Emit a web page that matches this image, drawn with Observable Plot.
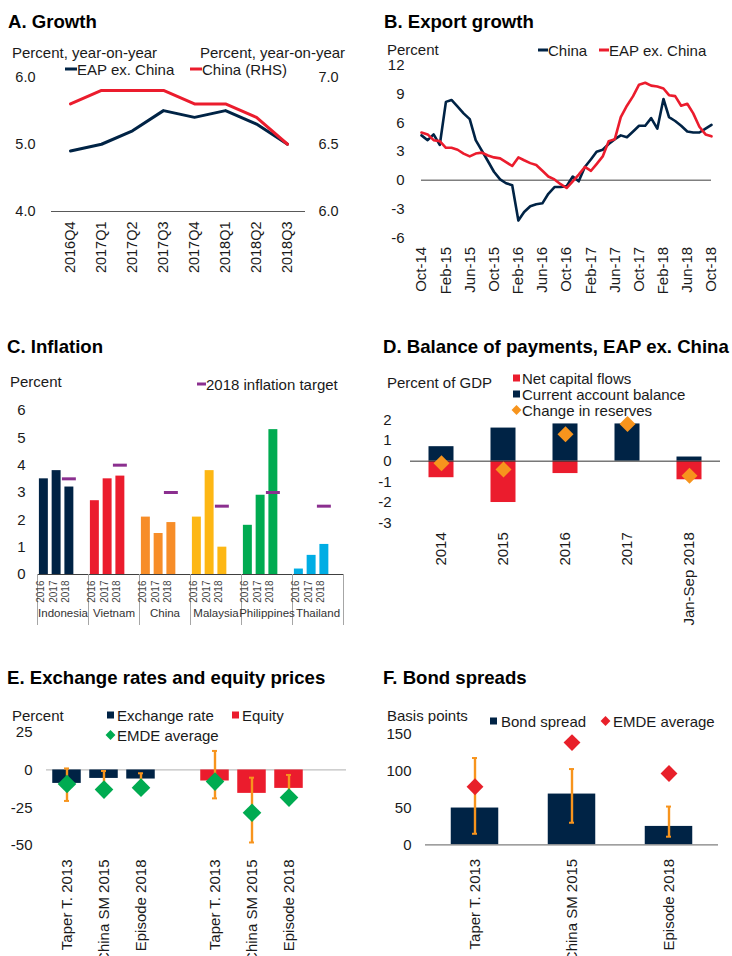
<!DOCTYPE html>
<html>
<head>
<meta charset="utf-8">
<script src="https://cdn.jsdelivr.net/npm/d3@7"></script>
<script src="https://cdn.jsdelivr.net/npm/@observablehq/plot@0.6"></script>
<style>
  body { margin: 0; background: #fff; }
  #page { position: relative; width: 732px; height: 956px; overflow: hidden;
          font-family: "Liberation Sans", Arial, sans-serif; color: #1a1a1a; }
  .t { position: absolute; white-space: nowrap; transform: translateY(-50%); line-height: 1; }
  .title { font-weight: bold; font-size: 18.6px; color: #000; }
  .lab { font-size: 15px; }
  .sw { position: absolute; transform: translateY(-50%); }
  .dia { position: absolute; transform: translateY(-50%) rotate(45deg); }
  svg.panel { position: absolute; }
</style>
</head>
<body>
<div id="page"></div>
<script>
// ---------- A. Growth ----------
const growthQuarters = ["2016Q4","2017Q1","2017Q2","2017Q3","2017Q4","2018Q1","2018Q2","2018Q3"];
const growthEapExChina = [4.9, 5.0, 5.2, 5.5, 5.4, 5.5, 5.3, 5.0];
const growthChinaRhs = [6.8, 6.9, 6.9, 6.9, 6.8, 6.8, 6.7, 6.5];

// ---------- B. Export growth (monthly, Oct-14 to Oct-18) ----------
const exportFirstMonth = [2014, 9]; // year, zero-based month
const exportChina = [4.7,4.2,4.8,3.7,8.2,8.4,7.7,7.0,6.4,4.2,3.1,2.0,0.9,0.1,-0.3,-0.5,-4.2,-3.3,-2.7,-2.5,
  -2.4,-1.4,-0.7,-0.7,-0.6,0.4,-0.1,1.4,2.2,3.0,3.2,3.8,4.3,4.7,4.5,5.1,5.7,5.7,6.5,5.4,
  8.5,6.6,6.2,5.7,5.1,5.0,5.0,5.4,5.8];
const exportEapExChina = [5.0,4.8,4.2,4.1,3.4,3.4,3.2,2.8,2.5,2.8,2.9,2.6,2.4,2.3,1.9,1.5,2.4,2.1,1.8,1.6,
  1.0,0.4,0.1,-0.4,-0.8,-0.1,0.6,1.4,1.0,1.7,2.5,4.1,4.3,6.6,7.8,8.8,10.0,10.2,9.9,9.8,
  9.6,8.9,8.8,7.8,8.0,7.0,5.6,4.8,4.6];

// ---------- C. Inflation ----------
const inflCountries = ["Indonesia","Vietnam","China","Malaysia","Philippines","Thailand"];
const inflYears = ["2016","2017","2018"];
const infl2016 = [3.5, 2.7, 2.1, 2.1, 1.8, 0.2];
const infl2017 = [3.8, 3.5, 1.5, 3.8, 2.9, 0.7];
const infl2018 = [3.2, 3.6, 1.9, 1.0, 5.3, 1.1];
const inflTarget2018 = [3.5, 4.0, 3.0, 2.5, 3.0, 2.5];

// ---------- D. Balance of payments, EAP ex. China ----------
const bopPeriods = ["2014","2015","2016","2017","Jan-Sep 2018"];
const bopNetCapitalFlows = [-0.8, -2.0, -0.6, 0.0, -0.9];
const bopCurrentAccount = [0.7, 1.6, 1.8, 1.8, 0.2];
const bopReserveChange = [-0.1, -0.4, 1.3, 1.8, -0.7];

// ---------- E. Exchange rates and equity prices ----------
const episodes = ["Taper T. 2013","China SM 2015","Episode 2018"];
const fxChange = [-8.9, -5.6, -6.0];
const fxRangeHigh = [1.0, -0.7, -2.2];
const fxRangeLow = [-20.5, -13.0, -11.5];
const fxEmdeAverage = [-9.3, -13.0, -11.7];
const equityChange = [-7.3, -15.5, -12.2];
const equityRangeHigh = [12.6, -5.1, -3.3];
const equityRangeLow = [-18.8, -48.0, -18.0];
const equityEmdeAverage = [-7.7, -28.3, -18.3];

// ---------- F. Bond spreads ----------
const bondSpread = [50, 69, 25];
const bondRangeHigh = [118, 103, 52];
const bondRangeLow = [15, 30, 11];
const bondEmdeAverage = [79, 139, 97];

// ---------- palette ----------
const NAVY = "#002345", RED = "#EB1C2D", ORANGE = "#F7941D", YELLOW = "#FDB714",
      GREEN = "#00AB51", SKY = "#00ADE4", PURPLE = "#8B2F8F";
const countryColors = [NAVY, RED, "#F78D28", YELLOW, GREEN, SKY];

const page = document.getElementById("page");
const baseStyle = { fontFamily: "Liberation Sans, Arial, sans-serif", fontSize: "15px",
                    color: "#1a1a1a", background: "none", overflow: "visible" };
const hyphen = d => String(d);

function place(svg, left, top) {
  svg.classList.add("panel");
  svg.style.left = left + "px";
  svg.style.top = top + "px";
  page.appendChild(svg);
}
function text(str, left, cy, cls) {
  const el = document.createElement("div");
  el.className = "t " + cls;
  el.style.left = left + "px";
  el.style.top = cy + "px";
  el.textContent = str;
  page.appendChild(el);
}
function lineKey(color, left, cy, w, label) {
  const s = document.createElement("div");
  s.className = "sw";
  Object.assign(s.style, { left: left + "px", top: cy + "px", width: w + "px", height: "3px", background: color });
  page.appendChild(s);
  text(label, left + w, cy, "lab");
}
function squareKey(color, left, cy, label, gap) {
  const s = document.createElement("div");
  s.className = "sw";
  Object.assign(s.style, { left: left + "px", top: cy + "px", width: "7px", height: "7px", background: color });
  page.appendChild(s);
  text(label, left + gap, cy, "lab");
}
function diamondKey(color, left, cy, label, gap) {
  const s = document.createElement("div");
  s.className = "dia";
  Object.assign(s.style, { left: (left + 1) + "px", top: cy + "px", width: "7px", height: "7px", background: color });
  page.appendChild(s);
  text(label, left + gap, cy, "lab");
}

// ---------- A. Growth ----------
{
  const rows = growthQuarters.map((q, i) => ({ q, eap: growthEapExChina[i], china: growthChinaRhs[i] }));
  // right-hand axis 6.0–7.0 is drawn on the left-hand 4.0–6.0 scale
  const rhsToLhs = v => 4 + (v - 6) * 2;
  const lhsToRhs = v => 6 + (v - 4) / 2;
  const svg = Plot.plot({
    width: 366, height: 300,
    marginTop: 76.5, marginBottom: 89, marginLeft: 51, marginRight: 61,
    style: { ...baseStyle, fontSize: "14.5px" },
    x: { type: "point", domain: growthQuarters, padding: 0.5, tickRotate: -90, tickSize: 0, tickPadding: 10, label: null },
    y: { domain: [4, 6], ticks: [4, 5, 6], tickFormat: d => d.toFixed(1), tickSize: 0, tickPadding: 16, label: null },
    marks: [
      Plot.ruleY([4], { stroke: "#595959", strokeWidth: 1.2 }),
      Plot.line(rows, { x: "q", y: "eap", stroke: NAVY, strokeWidth: 3 }),
      Plot.line(rows, { x: "q", y: d => rhsToLhs(d.china), stroke: RED, strokeWidth: 3 }),
      Plot.text([4, 5, 6], { y: d => d, frameAnchor: "right", text: d => lhsToRhs(d).toFixed(1),
                             textAnchor: "start", dx: 13, fontSize: 14.5 })
    ]
  });
  place(svg, 0, 0);
  text("A. Growth", 8, 21.7, "title");
  text("Percent, year-on-year", 12, 52, "lab");
  text("Percent, year-on-year", 200, 52, "lab");
  lineKey(NAVY, 65, 69, 12, "EAP ex. China");
  lineKey(RED, 190, 69, 12, "China (RHS)");
}

// ---------- B. Export growth ----------
{
  const month = i => new Date(Date.UTC(exportFirstMonth[0], exportFirstMonth[1] + i, 1));
  const rows = exportChina.map((v, i) => ({ date: month(i), china: v, eap: exportEapExChina[i] }));
  const tickDates = rows.filter((d, i) => i % 4 === 0).map(d => d.date);
  const svg = Plot.plot({
    width: 366, height: 300,
    marginTop: 65, marginBottom: 62.7, marginLeft: 55, marginRight: 21,
    style: baseStyle,
    x: { type: "utc", domain: [rows[0].date, rows[rows.length - 1].date], ticks: tickDates,
         tickFormat: d3.utcFormat("%b-%y"), tickRotate: -90, tickSize: 0, tickPadding: 9, label: null },
    y: { domain: [-6, 12], ticks: [-6, -3, 0, 3, 6, 9, 12], tickFormat: hyphen, tickSize: 0, tickPadding: 17, label: null },
    marks: [
      Plot.ruleY([0], { stroke: "#7f7f7f", strokeWidth: 1.5 }),
      Plot.line(rows, { x: "date", y: "china", stroke: NAVY, strokeWidth: 2.6 }),
      Plot.line(rows, { x: "date", y: "eap", stroke: RED, strokeWidth: 2.6 })
    ]
  });
  place(svg, 366, 0);
  text("B. Export growth", 384, 21.7, "title");
  text("Percent", 387, 49, "lab");
  lineKey(NAVY, 538, 50, 10, "China");
  lineKey(RED, 599, 50, 10, "EAP ex. China");
}

// ---------- C. Inflation ----------
{
  // each country takes four slots: three years and a spacer
  const rows = [];
  inflCountries.forEach((c, g) => [infl2016, infl2017, infl2018].forEach((series, k) =>
    rows.push({ country: c, year: inflYears[k], value: series[g], slot: g * 4 + k, color: countryColors[g] })));
  const targets = inflCountries.map((c, g) => ({ country: c, target: inflTarget2018[g], slot: g * 4 + 2 }));
  const yTop = 6, frameHeight = 164;              // px for the 0–6 range
  const sepDepth = 51 * yTop / frameHeight;        // separators run 51px below the axis
  const svg = Plot.plot({
    width: 366, height: 300,
    marginTop: 80, marginBottom: 56, marginLeft: 37, marginRight: 23,
    style: baseStyle,
    color: { type: "identity" },
    x: { domain: [0, 24], axis: null },
    y: { domain: [0, yTop], ticks: d3.range(0, 7), tickFormat: hyphen, tickSize: 0, tickPadding: 12, label: null },
    marks: [
      Plot.rectY(rows, { x1: "slot", x2: d => d.slot + 1, y1: 0, y2: "value", fill: "color", insetLeft: 1.9, insetRight: 1.9 }),
      Plot.ruleY(targets, { x1: "slot", x2: d => d.slot + 1, y: "target", stroke: PURPLE, strokeWidth: 3, insetLeft: -0.6, insetRight: -0.6 }),
      Plot.ruleY([0], { stroke: "#404040", strokeWidth: 1 }),
      Plot.ruleX(d3.range(0, 25, 4), { x: d => d, y1: 0, y2: -sepDepth, stroke: "#a6a6a6", strokeWidth: 1 }),
      Plot.text(rows, { x: d => d.slot + 0.5, text: "year", frameAnchor: "bottom", rotate: -90,
                        textAnchor: "end", dy: 6, fontSize: 10, fill: "#444" }),
      Plot.text(inflCountries, { x: (d, i) => i * 4 + 2, text: d => d, frameAnchor: "bottom",
                                 dy: 42, fontSize: 11.5, fill: "#333" })
    ]
  });
  place(svg, 0, 330);
  text("C. Inflation", 7, 346.7, "title");
  text("Percent", 10, 381, "lab");
  lineKey(PURPLE, 197, 384, 9, "2018 inflation target");
}

// ---------- D. Balance of payments ----------
{
  const rows = bopPeriods.map((p, i) => ({ p, ncf: bopNetCapitalFlows[i], ca: bopCurrentAccount[i], res: bopReserveChange[i] }));
  const svg = Plot.plot({
    width: 366, height: 300,
    marginTop: 89.3, marginBottom: 107.3, marginLeft: 44, marginRight: 12,
    style: baseStyle,
    x: { type: "band", domain: bopPeriods, padding: 0, tickRotate: -90, tickSize: 0, tickPadding: 9, label: null },
    y: { domain: [-3, 2], ticks: [-3, -2, -1, 0, 1, 2], tickFormat: hyphen, tickSize: 0, tickPadding: 19, label: null },
    marks: [
      Plot.barY(rows, { x: "p", y1: 0, y2: "ncf", fill: RED, insetLeft: 18.5, insetRight: 18.5 }),
      Plot.barY(rows, { x: "p", y1: 0, y2: "ca", fill: NAVY, insetLeft: 18.5, insetRight: 18.5 }),
      Plot.ruleY([0], { stroke: "#333", strokeWidth: 1 }),
      Plot.dot(rows, { x: "p", y: "res", symbol: "diamond2", fill: ORANGE, stroke: "none", r: 7.2 })
    ]
  });
  place(svg, 366, 330);
  text("D. Balance of payments, EAP ex. China", 383, 346.7, "title");
  text("Percent of GDP", 387, 381.7, "lab");
  squareKey(RED, 513, 377.5, "Net capital flows", 9);
  squareKey(NAVY, 513, 393.5, "Current account balance", 9);
  diamondKey(ORANGE, 512, 409.5, "Change in reserves", 10);
}

// ---------- E. Exchange rates and equity prices ----------
{
  const fxRows = episodes.map((e, i) => ({ key: "fx" + i, label: e, v: fxChange[i], hi: fxRangeHigh[i], lo: fxRangeLow[i], emde: fxEmdeAverage[i] }));
  const eqRows = episodes.map((e, i) => ({ key: "eq" + i, label: e, v: equityChange[i], hi: equityRangeHigh[i], lo: equityRangeLow[i], emde: equityEmdeAverage[i] }));
  const all = fxRows.concat(eqRows);
  const domain = ["fx0", "fx1", "fx2", "gap1", "eq0", "eq1", "eq2", "gap2"];
  const labelOf = new Map(all.map(d => [d.key, d.label]));
  const barInset = 4.25, capInset = 16;
  const svg = Plot.plot({
    width: 366, height: 296,
    marginTop: 71.7, marginBottom: 111, marginLeft: 46, marginRight: 20,
    style: baseStyle,
    x: { type: "band", domain, padding: 0, tickFormat: k => labelOf.get(k) || "",
         tickRotate: -90, tickSize: 0, tickPadding: 14, label: null },
    y: { domain: [-50, 25], ticks: [-50, -25, 0, 25], tickFormat: hyphen, tickSize: 0, tickPadding: 14, label: null },
    marks: [
      Plot.ruleY([0], { stroke: "#bfbfbf", strokeWidth: 1.2 }),
      Plot.barY(fxRows, { x: "key", y1: 0, y2: "v", fill: NAVY, insetLeft: barInset, insetRight: barInset }),
      Plot.barY(eqRows, { x: "key", y1: 0, y2: "v", fill: RED, insetLeft: barInset, insetRight: barInset }),
      Plot.ruleX(all, { x: "key", y1: "lo", y2: "hi", stroke: ORANGE, strokeWidth: 2.4 }),
      Plot.tickY(all, { x: "key", y: "hi", stroke: ORANGE, strokeWidth: 2, insetLeft: capInset, insetRight: capInset }),
      Plot.tickY(all, { x: "key", y: "lo", stroke: ORANGE, strokeWidth: 2, insetLeft: capInset, insetRight: capInset }),
      Plot.dot(all, { x: "key", y: "emde", symbol: "diamond2", fill: GREEN, stroke: "none", r: 8.4 })
    ]
  });
  place(svg, 0, 660);
  text("E. Exchange rates and equity prices", 7, 678, "title");
  text("Percent", 12, 715, "lab");
  squareKey(NAVY, 107, 715, "Exchange rate", 10);
  squareKey(RED, 232, 715, "Equity", 10);
  diamondKey(GREEN, 106, 735, "EMDE average", 11);
}

// ---------- F. Bond spreads ----------
{
  const rows = episodes.map((e, i) => ({ e, v: bondSpread[i], hi: bondRangeHigh[i], lo: bondRangeLow[i], emde: bondEmdeAverage[i] }));
  const barInset = 24.75, capInset = 46;
  const svg = Plot.plot({
    width: 366, height: 296,
    marginTop: 74, marginBottom: 111.7, marginLeft: 59, marginRight: 14,
    style: baseStyle,
    x: { type: "band", domain: episodes, padding: 0, tickRotate: -90, tickSize: 0, tickPadding: 14, label: null },
    y: { domain: [0, 150], ticks: [0, 50, 100, 150], tickFormat: hyphen, tickSize: 0, tickPadding: 14, label: null },
    marks: [
      Plot.barY(rows, { x: "e", y1: 0, y2: "v", fill: NAVY, insetLeft: barInset, insetRight: barInset }),
      Plot.ruleY([0], { stroke: "#7f7f7f", strokeWidth: 1.2 }),
      Plot.ruleX(rows, { x: "e", y1: "lo", y2: "hi", stroke: ORANGE, strokeWidth: 2.4 }),
      Plot.tickY(rows, { x: "e", y: "hi", stroke: ORANGE, strokeWidth: 2, insetLeft: capInset, insetRight: capInset }),
      Plot.tickY(rows, { x: "e", y: "lo", stroke: ORANGE, strokeWidth: 2, insetLeft: capInset, insetRight: capInset }),
      Plot.dot(rows, { x: "e", y: "emde", symbol: "diamond2", fill: "#E8202A", stroke: "none", r: 7.6 })
    ]
  });
  place(svg, 366, 660);
  text("F. Bond spreads", 383, 678, "title");
  text("Basis points", 387, 715, "lab");
  squareKey(NAVY, 490, 720.7, "Bond spread", 11);
  diamondKey("#E8202A", 601, 720.7, "EMDE average", 12);
}
</script>
</body>
</html>
